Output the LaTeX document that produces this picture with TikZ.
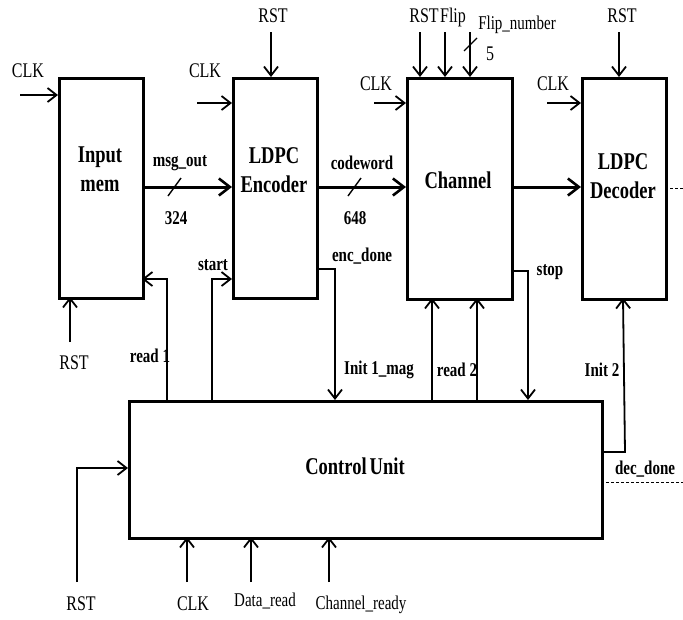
\documentclass[tikz,border=0pt]{standalone}
\usepackage{fontspec}
\usepackage{graphicx}
\setmainfont{Liberation Serif}
\usetikzlibrary{arrows.meta}
\newcommand\vs[1]{\scalebox{1}[1.3]{#1}}
\tikzset{
  blk/.style={draw, line width=3pt, rectangle, inner sep=0pt, anchor=north west},
  sig/.style={line width=1.8pt, -{Straight Barb[length=9pt,width=14pt,line width=1.8pt]}},
  sigline/.style={line width=1.8pt},
  bus/.style={line width=3pt, -{Straight Barb[length=11pt,width=17pt,line width=2.6pt]}},
  lbl/.style={inner sep=0pt, font=\fontsize{16}{19}\selectfont},
  slbl/.style={inner sep=0pt, font=\fontsize{15}{18}\selectfont\bfseries},
  blbl/.style={inner sep=0pt, align=center, font=\fontsize{18.5}{23}\selectfont\bfseries},
  dsh/.style={line width=1pt, dashed, dash pattern=on 3pt off 2pt},
}
\begin{document}
\begin{tikzpicture}[x=1pt,y=-1pt]
\useasboundingbox (0,0) rectangle (683,619);
% blocks
\node[blk, minimum width=84pt, minimum height=220pt] (mem) at (58,77) {};
\node[blk, minimum width=84pt, minimum height=220pt] (enc) at (232,77) {};
\node[blk, minimum width=105pt, minimum height=221pt] (chn) at (406,77) {};
\node[blk, minimum width=84pt, minimum height=221pt] (dec) at (581,77) {};
\node[blk, minimum width=473pt, minimum height=137pt] (cu) at (128,400) {};
% block labels
\node[blbl] (memt) at (100,171) {\vs{\begin{tabular}{@{}c@{}}Input\\mem\end{tabular}}};
\node[blbl] (enct) at (274,172) {\vs{\begin{tabular}{@{}c@{}}LDPC\\Encoder\end{tabular}}};
\node[blbl] (chnt) at (458,180) {\vs{Channel}};
\node[blbl] (dect) at (623,178) {\vs{\begin{tabular}{@{}c@{}}LDPC\\Decoder\end{tabular}}};
\node[blbl] (cut) at (355,466) {\vs{Control\,Unit}};
% coordinates
\coordinate (clk1s) at (20,95);   \coordinate (clk1e) at (58,95);
\coordinate (clk2s) at (197,103); \coordinate (clk2e) at (232,103);
\coordinate (clk3s) at (374,103); \coordinate (clk3e) at (406,103);
\coordinate (clk4s) at (547,103); \coordinate (clk4e) at (581,103);
\coordinate (rst2s) at (271,32);  \coordinate (rst2e) at (271,77);
\coordinate (rst3s) at (420,32);  \coordinate (rst3e) at (420,77);
\coordinate (flps) at (445,32);   \coordinate (flpe) at (445,77);
\coordinate (fnos) at (470,32);   \coordinate (fnoe) at (470,77);
\coordinate (rst4s) at (619,32);  \coordinate (rst4e) at (619,77);
\coordinate (rst1s) at (70,342);  \coordinate (rst1e) at (70,297);
\coordinate (mso) at (142,187);   \coordinate (msi) at (232,187);
\coordinate (cwo) at (316,187);   \coordinate (cwi) at (406,187);
\coordinate (cho) at (511,187);   \coordinate (chi) at (581,187);
\coordinate (deco) at (665,188);  \coordinate (decd) at (683,188);
% top inputs
\node[lbl] (clk1t) at (28,71) {\vs{CLK}};
\node[lbl] (clk2t) at (205,71) {\vs{CLK}};
\node[lbl] (clk3t) at (376,84) {\vs{CLK}};
\node[lbl] (clk4t) at (553,84) {\vs{CLK}};
\node[lbl] (rst2t) at (273,16) {\vs{RST}};
\node[lbl] (rst3t) at (424,16) {\vs{RST}};
\node[lbl] (flpt) at (453,17) {\vs{Flip}};
\node[lbl, font=\fontsize{15}{18}\selectfont] (fnot) at (517,25) {\vs{Flip\_number}};
\node[lbl] (fivet) at (490,54) {\vs{5}};
\node[lbl] (rst4t) at (622,16) {\vs{RST}};
\node[lbl] (rst1t) at (74,363) {\vs{RST}};
\draw[sig] (clk1s) -- (clk1e);
\draw[sig] (clk2s) -- (clk2e);
\draw[sig] (clk3s) -- (clk3e);
\draw[sig] (clk4s) -- (clk4e);
\draw[sig] (rst2s) -- (rst2e);
\draw[sig] (rst3s) -- (rst3e);
\draw[sig] (flps) -- (flpe);
\draw[sig] (fnos) -- (fnoe);
\draw[sig] (rst4s) -- (rst4e);
\draw[sig] (rst1s) -- (rst1e);
\coordinate (fsl1) at (464,51); \coordinate (fsl2) at (477,38);
\draw[sigline, line width=1.2pt] (fsl1) -- (fsl2);
% data buses
\draw[bus] (mso) -- (msi);
\draw[bus] (cwo) -- (cwi);
\draw[bus] (cho) -- (chi);
\draw[dsh] (deco) -- (decd);
\coordinate (msl1) at (168,196); \coordinate (msl2) at (181,178);
\coordinate (cwl1) at (348,196); \coordinate (cwl2) at (361,178);
\draw[sigline, line width=1.4pt] (msl1) -- (msl2);
\draw[sigline, line width=1.4pt] (cwl1) -- (cwl2);
\node[slbl] (msgt) at (180,163) {\vs{msg\_out}};
\node[slbl] (n324) at (176,218) {\vs{324}};
\node[slbl] (cwt) at (362,163) {\vs{codeword}};
\node[slbl] (n648) at (355,218) {\vs{648}};
% control signals
\coordinate (r1b) at (167,400); \coordinate (r1m) at (167,279); \coordinate (r1e) at (142,279);
\draw[sig] (r1b) -- (r1m) -- (r1e);
\node[slbl] (r1t) at (150,356) {\vs{read 1}};
\coordinate (stb) at (212,400); \coordinate (stm) at (212,279); \coordinate (ste) at (232,279);
\draw[sig] (stb) -- (stm) -- (ste);
\node[slbl] (stt) at (213,265) {\vs{start}};
\coordinate (edb) at (316,269); \coordinate (edm) at (335,269); \coordinate (ede) at (335,400);
\draw[sig] (edb) -- (edm) -- (ede);
\node[slbl] (edt) at (362,256) {\vs{enc\_done}};
\node[slbl] (i1t) at (379,370) {\vs{Init 1\_mag}};
\coordinate (ra) at (432,400); \coordinate (rae) at (432,298);
\coordinate (rb) at (477,400); \coordinate (rbe) at (477,298);
\draw[sig] (ra) -- (rae);
\draw[sig] (rb) -- (rbe);
\node[slbl] (r2t) at (457,370) {\vs{read 2}};
\coordinate (spb) at (511,271); \coordinate (spm) at (528,271); \coordinate (spe) at (528,400);
\draw[sig] (spb) -- (spm) -- (spe);
\node[slbl] (spt) at (550,272) {\vs{stop}};
\coordinate (i2b) at (601,452); \coordinate (i2m) at (625,452); \coordinate (i2e) at (623,298);
\draw[sig] (i2b) -- (i2m) -- (i2e);
\node[slbl] (i2t) at (602,370) {\vs{Init 2}};
\coordinate (ddb) at (601,482); \coordinate (dde) at (683,482);
\draw[dsh] (ddb) -- (dde);
\node[slbl] (ddt) at (645,469) {\vs{dec\_done}};
% control unit inputs
\coordinate (rcb) at (77,582); \coordinate (rcm) at (77,468); \coordinate (rce) at (128,468);
\draw[sig] (rcb) -- (rcm) -- (rce);
\node[lbl] (rct) at (81,604) {\vs{RST}};
\coordinate (ccb) at (187,582); \coordinate (cce) at (187,537);
\draw[sig] (ccb) -- (cce);
\node[lbl] (cct) at (193,604) {\vs{CLK}};
\coordinate (drb) at (251,582); \coordinate (dre) at (251,537);
\draw[sig] (drb) -- (dre);
\node[lbl, font=\fontsize{15}{18}\selectfont] (drt) at (265,601) {\vs{Data\_read}};
\coordinate (crb) at (329,582); \coordinate (cre) at (329,537);
\draw[sig] (crb) -- (cre);
\node[lbl, font=\fontsize{15}{18}\selectfont] (crt) at (361,605) {\vs{Channel\_ready}};
\end{tikzpicture}
\end{document}
